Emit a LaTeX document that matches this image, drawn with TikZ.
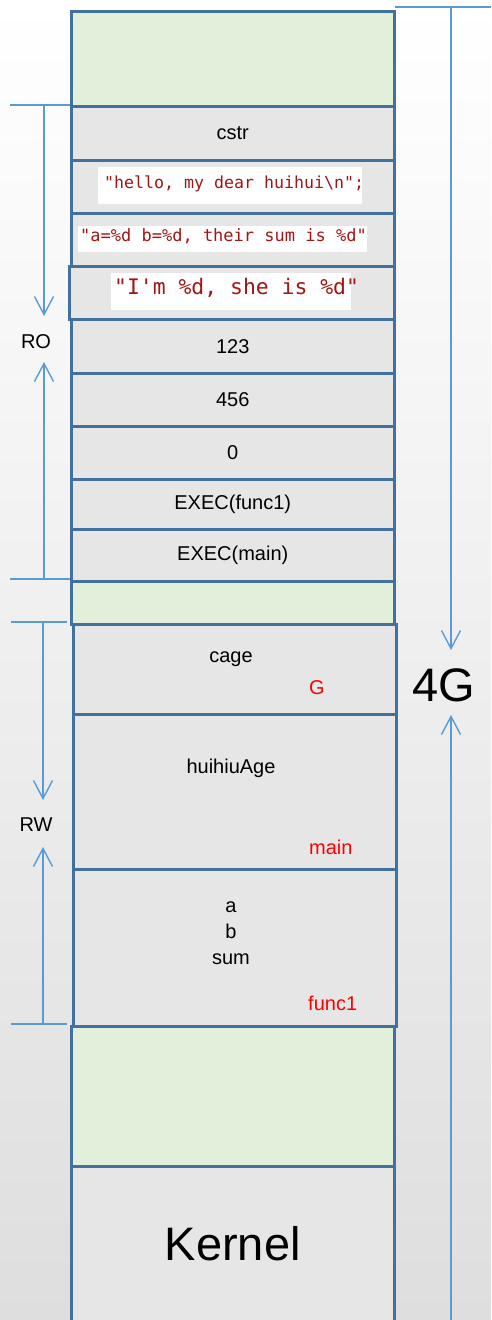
\documentclass[tikz,border=0pt]{standalone}
\usepackage{fontspec}
\setmainfont{Liberation Sans}
\newfontfamily\codefont{DejaVu Sans Mono}
\usetikzlibrary{arrows.meta}
\definecolor{edge}{HTML}{41719C}
\definecolor{cellgray}{HTML}{E6E6E6}
\definecolor{cellgreen}{HTML}{E2EFDA}
\definecolor{dim}{HTML}{5B9BD5}
\definecolor{codered}{RGB}{163,21,21}
\definecolor{bgbottom}{RGB}{222,222,222}
\begin{document}
\begin{tikzpicture}[x=1pt,y=-1pt,
  cell/.style={draw=edge, line width=2.5pt, fill=cellgray, anchor=north west,
    inner sep=0pt, minimum width=323pt, font=\fontsize{20}{24}\selectfont},
  freecell/.style={cell, fill=cellgreen},
  codebox/.style={fill=white, inner sep=0pt},
  code/.style={text=codered, inner sep=0pt, anchor=west, text height=0.75em, text depth=0.2em},
  lbl/.style={inner sep=0pt, font=\fontsize{20}{24}\selectfont},
  owner/.style={inner sep=0pt, anchor=west, text=red, font=\fontsize{20}{24}\selectfont},
  dimline/.style={draw=dim, line width=1.4pt},
  dimarrow/.style={dimline, -{Straight Barb[length=18pt,width=19pt,line width=1.4pt]}}]

% page background
\shade[top color=white, bottom color=bgbottom] (0,0) rectangle (491,1320);
\useasboundingbox (0,0) rectangle (491,1320);

% address-space column
\node[freecell, minimum height=95pt] (top) at (70,10) {};
\node[cell, minimum height=54pt] (cstr) at (70,105) {cstr};
\node[cell, minimum height=53pt] (hello) at (70,159) {};
\node[cell, minimum height=53pt] (fmtsum) at (70,212) {};
\node[cell, minimum height=53pt, minimum width=325pt] (fmtage) at (68,265) {};
\node[cell, minimum height=54pt] (c123) at (70,318) {123};
\node[cell, minimum height=53pt] (c456) at (70,372) {456};
\node[cell, minimum height=53pt] (czero) at (70,425) {0};
\node[cell, minimum height=50pt] (exfunc) at (70,478) {EXEC(func1)};
\node[cell, minimum height=52pt] (exmain) at (70,528) {EXEC(main)};
\node[freecell, minimum height=43pt] (gap) at (70,580) {};
\node[cell, minimum height=90pt] (cage) at (72,623) {};
\node[cell, minimum height=155pt] (mainframe) at (72,713) {};
\node[cell, minimum height=157pt] (funcframe) at (72,868) {};
\node[freecell, minimum height=140pt] (heap) at (70,1025) {};
\node[cell, minimum height=155pt, font=\fontsize{47}{56}\selectfont] (kernel) at (70,1165) {Kernel};

% string literals
\node[codebox, minimum width=264pt, minimum height=37pt] (s1) at (230,185.5) {};
\begin{scope}
  \clip (s1.south west) rectangle (s1.north east);
  \node[code, font=\codefont\fontsize{16.6}{20}\selectfont] (t1) at (104,185.5) {"hello, my dear huihui\textbackslash n";};
\end{scope}
\node[codebox, minimum width=289pt, minimum height=26pt] (s2) at (222.5,239) {};
\node[code, font=\codefont\fontsize{17}{20}\selectfont] (t2) at (80,239) {"a=\%d b=\%d, their sum is \%d"};
\node[codebox, minimum width=240pt, minimum height=37pt] (s3) at (231,291.5) {};
\node[code, font=\codefont\fontsize{21.4}{25}\selectfont] (t3) at (114,291.5) {"I'm \%d, she is \%d"};

% stack contents
\node[lbl] (vcage) at (231,659) {cage};
\node[owner] (ownG) at (309,688) {G};
\node[lbl] (vage) at (231,768) {huihiuAge};
\node[owner] (ownmain) at (309,847) {main};
\node[lbl, align=center, font=\fontsize{20}{26}\selectfont] (vlocals) at (231,933) {a\\b\\sum};
\node[owner] (ownfunc) at (308,1003) {func1};

% RO extent
\coordinate (roTopL) at (10,105);  \coordinate (roTopR) at (70,105);
\coordinate (roBotL) at (10,579);  \coordinate (roBotR) at (70,579);
\coordinate (roTop) at (44,105);   \coordinate (roDown) at (44,316);
\coordinate (roBot) at (44,579);   \coordinate (roUp) at (44,362);
\node[lbl] (ro) at (36,342) {RO};
\draw[dimline] (roTopL) -- (roTopR);
\draw[dimline] (roBotL) -- (roBotR);
\draw[dimarrow] (roTop) -- (roDown);
\draw[dimarrow] (roBot) -- (roUp);

% RW extent
\coordinate (rwTopL) at (11,622);  \coordinate (rwTopR) at (67,622);
\coordinate (rwBotL) at (11,1024); \coordinate (rwBotR) at (67,1024);
\coordinate (rwTop) at (43,622);   \coordinate (rwDown) at (43,800);
\coordinate (rwBot) at (43,1024);  \coordinate (rwUp) at (43,847);
\node[lbl] (rw) at (36,825) {RW};
\draw[dimline] (rwTopL) -- (rwTopR);
\draw[dimline] (rwBotL) -- (rwBotR);
\draw[dimarrow] (rwTop) -- (rwDown);
\draw[dimarrow] (rwBot) -- (rwUp);

% whole 4G address space
\coordinate (gTopL) at (395,7);    \coordinate (gTopR) at (491,7);
\coordinate (gTop) at (451,7);     \coordinate (gDown) at (451,650);
\coordinate (gBot) at (451,1320);  \coordinate (gUp) at (451,715);
\node[inner sep=0pt, font=\fontsize{47}{56}\selectfont] (four) at (444,685) {4G};
\draw[dimline] (gTopL) -- (gTopR);
\draw[dimarrow] (gTop) -- (gDown);
\draw[dimarrow] (gBot) -- (gUp);
\end{tikzpicture}
\end{document}
